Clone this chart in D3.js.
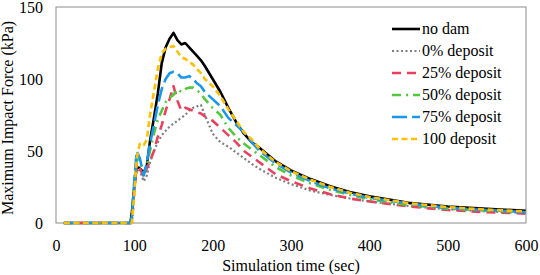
<!DOCTYPE html>
<html>
<head>
<meta charset="utf-8">
<script src="https://cdn.jsdelivr.net/npm/d3@7"></script>
<style>
  body { margin: 0; background: #fff; }
  svg text { fill: #000; }
</style>
</head>
<body>
<div id="chart"></div>
<script>
// time axis (sec)
var time = [10, 95, 97, 100, 103, 107, 112, 116, 120, 125, 130, 135, 140, 145, 150, 155, 160, 165, 170, 175,
            180, 185, 190, 200, 210, 220, 230, 240, 250, 260, 280, 300, 325, 350, 375, 400, 450, 500, 550, 600];

var noDam     = [0, 0, 8, 25, 39, 38, 35, 40, 57, 73, 90, 111, 122, 128, 132, 127, 124, 125, 122, 119,
                 116, 113, 109, 100, 91, 80, 70, 62, 56, 52, 43, 36.5, 30.5, 25.5, 21.5, 18.5, 14, 11.5, 9.8, 8.5];
var dep0      = [0, 0, 0, 20, 40, 36, 29, 33, 42, 50, 56, 61, 64, 67, 69, 71, 73, 75, 78, 80,
                 81, 82, 75, 62, 56, 53, 49, 45, 41, 37.5, 31.5, 27, 22.5, 19.5, 17, 15, 11.8, 9.5, 8, 7];
var dep25     = [0, 0, 0, 25, 42, 38, 32, 38, 43, 50, 60, 68, 78, 86, 95, 85, 78, 80, 79, 78,
                 77, 76, 74, 71, 66, 61, 56, 50, 46, 42, 34, 29, 24, 20, 17, 15, 11.5, 9, 7.5, 6.5];
var dep50     = [0, 0, 5, 28, 45, 42, 34, 40, 50, 62, 72, 78, 84, 87, 89, 93, 91, 93, 94, 94,
                 92, 90, 86, 80, 75, 66, 60, 55, 51, 47, 39, 33, 27.5, 23, 19.5, 16.5, 12.5, 10, 8.5, 7.5];
var dep75     = [0, 0, 5, 30, 50, 45, 33, 42, 55, 68, 82, 93, 100, 104, 105, 104, 101, 101, 102, 100,
                 97, 95, 91, 86, 81, 73, 68, 63, 56, 50, 41.5, 35, 29, 24, 20.5, 17.5, 13.5, 10.5, 9, 7.5];
var dep100    = [0, 0, 0, 20, 45, 55, 54, 58, 75, 91, 107, 118, 121, 122, 123, 119, 115, 114, 112, 110,
                 107, 104, 100, 95, 88, 79, 71, 63, 58, 51.5, 42.5, 36, 30, 25, 21, 18, 13.8, 11, 9.3, 8];

var seriesNames = ["no dam", "0% deposit", "25% deposit", "50% deposit", "75% deposit", "100 deposit"];
var xTicks = [0, 100, 200, 300, 400, 500, 600];
var yTicks = [0, 50, 100, 150];

var W = 540, H = 275;
var margin = {top: 7, right: 14, bottom: 52, left: 56};
var width = W - margin.left - margin.right;
var height = H - margin.top - margin.bottom;
var FONT = '"Liberation Serif", "Times New Roman", serif';

var styles = [
  {color: "#000000", dash: null,          w: 2.6},
  {color: "#7f7f7f", dash: "2,2.5",       w: 2.2},
  {color: "#e8405e", dash: "9,6",         w: 2.6},
  {color: "#52c83a", dash: "9,5,2,5",     w: 2.6},
  {color: "#1a96ec", dash: "15,5",        w: 2.6},
  {color: "#ffc000", dash: "6,3.5",       w: 2.6}
];

var values = [noDam, dep0, dep25, dep50, dep75, dep100];

var svg = d3.select("#chart")
  .append("svg")
  .attr("width", W)
  .attr("height", H)
  .attr("font-family", FONT)
  .append("g")
  .attr("transform", "translate(" + margin.left + "," + margin.top + ")");

var xScale = d3.scaleLinear().domain([0, 600]).range([0, width]);
var yScale = d3.scaleLinear().domain([0, 150]).range([height, 0]);

// axes (no tick marks, just labels)
var xAxis = d3.axisBottom(xScale).tickValues(xTicks).tickSize(0).tickPadding(17);
var yAxis = d3.axisLeft(yScale).tickValues(yTicks).tickSize(0).tickPadding(13);

svg.append("g")
   .attr("class", "x axis")
   .attr("transform", "translate(0," + height + ")")
   .call(xAxis)
   .attr("font-family", FONT)
   .attr("font-size", 16)
   .call(function(g){ g.select(".domain").remove(); });

svg.append("g")
   .attr("class", "y axis")
   .call(yAxis)
   .attr("font-family", FONT)
   .attr("font-size", 16)
   .call(function(g){ g.select(".domain").remove(); });

// plot border
svg.append("rect")
   .attr("x", 0)
   .attr("y", 0)
   .attr("width", width)
   .attr("height", height)
   .attr("fill", "none")
   .attr("stroke", "#8c8c8c")
   .attr("stroke-width", 1);

var line = d3.line()
  .x(function(d) { return xScale(d[0]); })
  .y(function(d) { return yScale(d[1]); });

values.forEach(function(vals, i) {
  var pts = time.map(function(t, j) { return [t, vals[j]]; });
  svg.append("path")
     .datum(pts)
     .attr("d", line)
     .attr("fill", "none")
     .attr("stroke", styles[i].color)
     .attr("stroke-width", styles[i].w)
     .attr("stroke-dasharray", styles[i].dash)
     .attr("stroke-linejoin", "round");
});

// legend
var legend = svg.append("g")
  .attr("transform", "translate(" + (392 - margin.left) + "," + (29 - margin.top) + ")");

seriesNames.forEach(function(name, i) {
  var row = legend.append("g").attr("transform", "translate(0," + (i * 22) + ")");
  row.append("line")
     .attr("x1", 0).attr("x2", 28)
     .attr("y1", 0).attr("y2", 0)
     .attr("stroke", styles[i].color)
     .attr("stroke-width", styles[i].w)
     .attr("stroke-dasharray", styles[i].dash);
  row.append("text")
     .attr("x", 30)
     .attr("y", 0)
     .attr("dy", "0.32em")
     .attr("font-size", 16)
     .text(name);
});

// axis titles
svg.append("text")
   .attr("x", width / 2)
   .attr("y", H - margin.top - 4)
   .attr("text-anchor", "middle")
   .attr("font-size", 16)
   .text("Simulation time (sec)");

svg.append("text")
   .attr("transform", "rotate(-90)")
   .attr("x", -(118 - margin.top))
   .attr("y", 13 - margin.left)
   .attr("text-anchor", "middle")
   .attr("font-size", 16)
   .text("Maximum Impact Force (kPa)");
</script>
</body>
</html>
